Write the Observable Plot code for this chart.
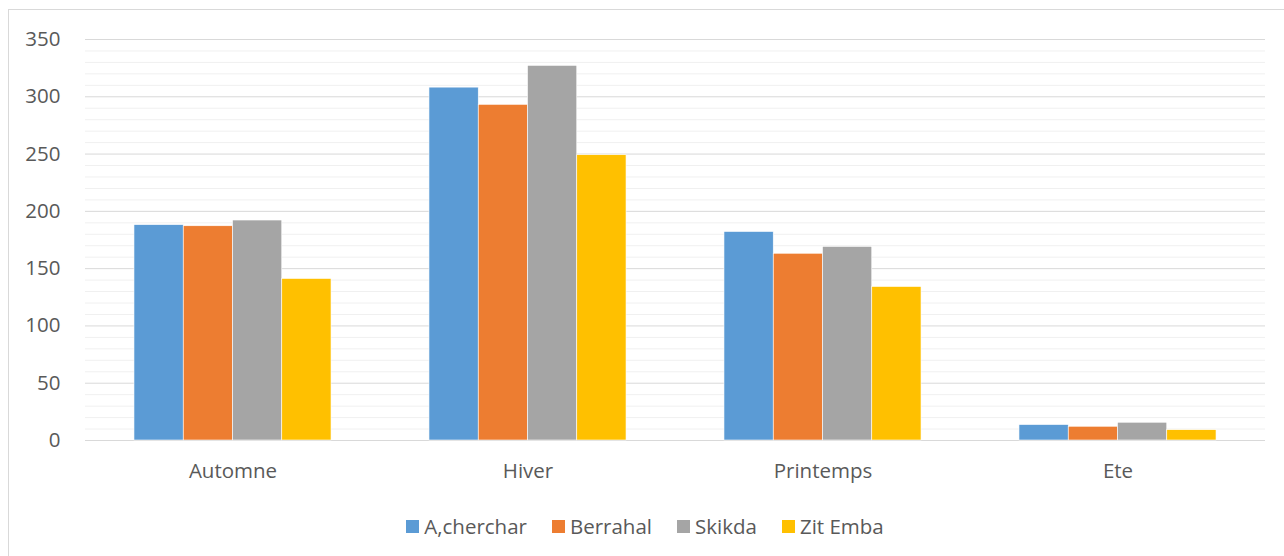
<!DOCTYPE html>
<html>
<head>
<meta charset="utf-8">
<script src="https://cdn.jsdelivr.net/npm/d3@7"></script>
<script src="https://cdn.jsdelivr.net/npm/@observablehq/plot@0.6"></script>
<style>
  body { margin: 0; background: #fff; font-family: "Open Sans", sans-serif; }
  #wrap { position: relative; width: 1284px; height: 556px; overflow: hidden; }
  #frame { position: absolute; left: 8px; top: 9px; width: 1300px; height: 600px; border: 1px solid #d9d9d9; box-sizing: border-box; pointer-events: none; }
  #legend { display: flex; justify-content: center; align-items: center; gap: 25px; font-size: 20.5px; color: #595959; height: 52px; margin-left: 6px; }
  .item { display: flex; align-items: center; }
  .sw { width: 13px; height: 13px; margin-right: 5px; }
</style>
</head>
<body>
<div id="wrap">
  <div id="chart"></div>
  <div id="legend"></div>
  <div id="frame"></div>
</div>
<script>
const seasons = ["Automne", "Hiver", "Printemps", "Ete"];
const stations = ["A,cherchar", "Berrahal", "Skikda", "Zit Emba"];
const colors = ["#5b9bd5", "#ed7d31", "#a5a5a5", "#ffc000"];
const aCherchar = [188, 308, 182, 13.5];
const berrahal = [187, 293, 163, 12];
const skikda = [192, 327, 169, 15.5];
const zitEmba = [141, 249, 134, 9];
const majorTicks = [0, 50, 100, 150, 200, 250, 300, 350];
const minorTicks = d3.range(0, 351, 10).filter(v => v % 50 !== 0);

const seriesValues = [aCherchar, berrahal, skikda, zitEmba];
const data = [];
seasons.forEach((s, i) => stations.forEach((st, j) => data.push({season: s, station: st, value: seriesValues[j][i]})));

const chart = Plot.plot({
  width: 1284,
  height: 500,
  marginLeft: 85,
  marginRight: 19,
  marginTop: 39,
  marginBottom: 60,
  style: {fontFamily: "Open Sans", fontSize: "20.5px", color: "#595959", background: "transparent"},
  fx: {domain: seasons, padding: 0, round: false, label: null, tickSize: 0, tickPadding: 23, axis: "bottom"},
  x: {domain: stations, paddingInner: 0, paddingOuter: 0.994, round: false, axis: null},
  y: {domain: [0, 350], ticks: majorTicks, tickSize: 0, tickPadding: 25, label: null},
  color: {domain: stations, range: colors},
  marks: [
    Plot.ruleY(minorTicks, {stroke: "#f0f0f0", strokeWidth: 1}),
    Plot.ruleY(majorTicks, {stroke: "#d9d9d9", strokeWidth: 1}),
    Plot.barY(data, {fx: "season", x: "station", y: "value", fill: "station", stroke: "#ffffff", strokeWidth: 0.6})
  ]
});
document.getElementById("chart").appendChild(chart);

const legend = document.getElementById("legend");
stations.forEach((st, i) => {
  const item = document.createElement("div");
  item.className = "item";
  const sw = document.createElement("span");
  sw.className = "sw";
  sw.style.background = colors[i];
  const label = document.createElement("span");
  label.textContent = st;
  item.appendChild(sw);
  item.appendChild(label);
  legend.appendChild(item);
});
</script>
</body>
</html>
